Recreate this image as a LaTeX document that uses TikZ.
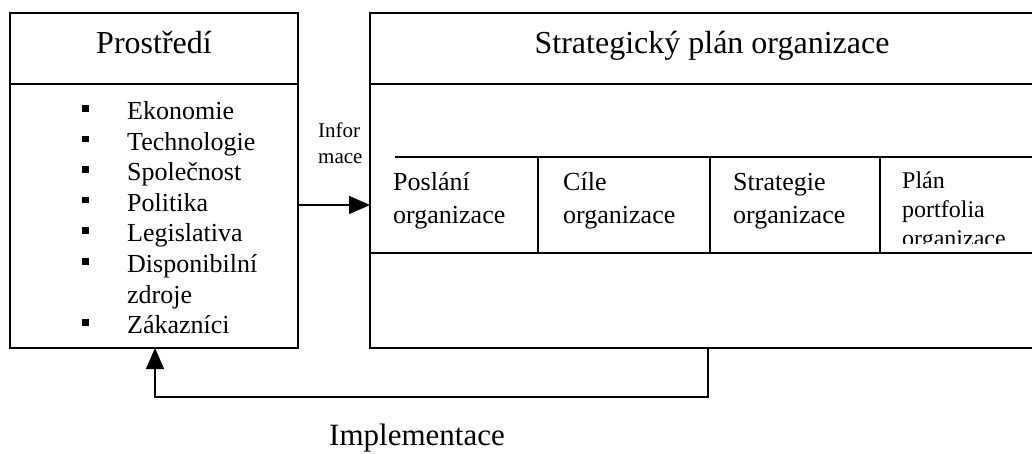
\documentclass[tikz,border=0pt]{standalone}
\usepackage{fontspec}
\setmainfont{Liberation Serif}
\usetikzlibrary{positioning,arrows.meta}
\newcommand\sqbul{\rule[8pt]{6.5pt}{6.5pt}}

\begin{document}
\begin{tikzpicture}[x=1pt,y=-1pt]
\tikzstyle{frame}=[draw, line width=1.5pt, inner sep=0pt, outer sep=0pt]
\tikzstyle{rule}=[line width=1.5pt]
\tikzstyle{flow}=[line width=1.5pt, -{Triangle[length=21pt,width=18pt]}]
\tikzstyle{head}=[font=\fontsize{32}{38}\selectfont, inner sep=0pt, anchor=base]
\tikzstyle{cell}=[font=\fontsize{26}{32.3}\selectfont, inner sep=0pt, anchor=base west, align=left]
\useasboundingbox (0,0) rectangle (1032,453);
% Prostredi
\node[frame, minimum width=288pt, minimum height=71pt] (env) at (154,48.5) {};
\node[frame, minimum width=288pt, minimum height=264pt, below=0pt of env] (envlist) {};
\node[head] (envtitle) at (154,53.5) {Prostředí};
\node[inner sep=0pt, anchor=base west, font=\fontsize{26}{30.6}\selectfont] (factors) at (82,119.5)
  {\begin{tabular}[t]{@{}p{45pt}@{}l@{}}
   \sqbul & Ekonomie\\
   \sqbul & Technologie\\
   \sqbul & Společnost\\
   \sqbul & Politika\\
   \sqbul & Legislativa\\
   \sqbul & Disponibilní\\
          & zdroje\\
   \sqbul & Zákazníci
   \end{tabular}};
% strategicky plan
\coordinate (plan-nw) at (370,13);
\coordinate (plan-sw) at (370,348);
\draw[rule] (1032,13) -- (plan-nw) -- (plan-sw) -- (1032,348);
\draw[rule] (370,84) -- (1032,84);
\node[head] (plantitle) at (712,53) {Strategický plán organizace};
\draw[rule] (395,157) -- (1032,157) (370,253) -- (1032,253);
\foreach \x in {538,710,880}
  \draw[rule] (\x,157) -- (\x,253);
% base = posledni radek
\node[cell] (mission) at (393,223) {Poslání\\organizace};
\node[cell] (goals) at (563,223) {Cíle\\organizace};
\node[cell] (strategy) at (733,223) {Strategie\\organizace};
\begin{scope}
  \clip (880,158) rectangle (1032,243);
  \node[cell, font=\fontsize{24}{29}\selectfont] (portfolio) at (902,246) {Plán\\portfolia\\organizace};
\end{scope}
% sipky
\coordinate (inflow) at (plan-nw |- 0,205);
\draw[flow] (envlist.east |- inflow) -- (inflow);
\node[inner sep=0pt, anchor=base west, align=left, font=\fontsize{21}{25.3}\selectfont] (infolabel) at (318,163) {Infor\\mace};
\coordinate (implout) at (708,348);
\draw[flow] (implout) -- ++(0,49) -| ([xshift=145pt]envlist.south west);
\node[inner sep=0pt, anchor=base, font=\fontsize{31}{36}\selectfont] (impl) at (417,445) {Implementace};
\end{tikzpicture}
\end{document}
